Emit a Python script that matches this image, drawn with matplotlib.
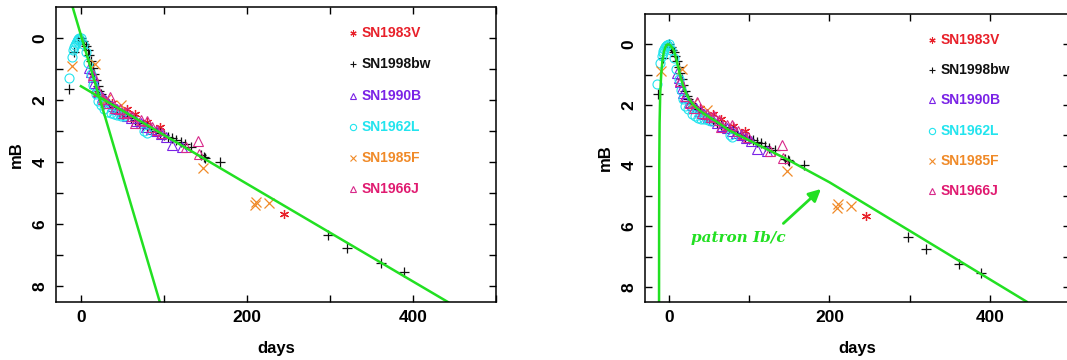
import matplotlib
matplotlib.use("Agg")
import matplotlib.pyplot as plt

# ---------------- data ----------------
sn1998bw_days = [-14, -8, -3, 0, 2, 4, 6, 8, 10, 12, 14, 16, 18, 20, 22, 24, 27, 30, 34, 38,
                 42, 46, 50, 55, 60, 65, 70, 75, 80, 85, 90, 95, 100, 105, 110, 115, 120, 125,
                 132, 145, 148, 150, 168, 298, 320, 362, 389]
sn1998bw_mag = [1.65, 0.46, 0.1, 0.0, 0.1, 0.18, 0.25, 0.4, 0.55, 0.75, 0.95, 1.15, 1.35, 1.55,
                1.7, 1.8, 1.92, 2.02, 2.12, 2.22, 2.3, 2.38, 2.45, 2.52, 2.58, 2.65, 2.72, 2.8,
                2.86, 2.93, 3.0, 3.06, 3.12, 3.17, 3.22, 3.27, 3.35, 3.42, 3.5, 3.78, 3.83, 3.86,
                3.99, 6.35, 6.75, 7.24, 7.54]

sn1962l_days = [-14.5, -11, -9, -8, -7, -6, -5, -4, -3, -2, 0, 3, 6, 9, 12, 15, 18, 20, 24, 28,
                32, 36, 40, 44, 48, 52, 76, 79]
sn1962l_mag = [1.3, 0.6, 0.4, 0.3, 0.22, 0.16, 0.1, 0.06, 0.03, 0.01, 0.0, 0.2, 0.45, 0.8, 1.15,
               1.5, 1.8, 2.02, 2.15, 2.3, 2.38, 2.42, 2.45, 2.47, 2.5, 2.52, 3.0, 3.05]

sn1990b_days = [10, 12, 14, 16, 18, 21, 25, 29, 33, 38, 43, 48, 55, 60, 66, 72, 78, 84, 90, 96,
                102, 110, 122]
sn1990b_mag = [0.95, 1.1, 1.25, 1.45, 1.6, 1.75, 1.9, 2.0, 2.1, 2.2, 2.3, 2.4, 2.5, 2.58, 2.68,
               2.75, 2.85, 2.92, 3.0, 3.1, 3.18, 3.45, 3.52]

sn1966j_days = [14, 20, 26, 31, 35, 41, 47, 52, 56, 62, 65, 72, 79, 86, 92, 98, 126, 141, 142]
sn1966j_mag = [1.2, 1.7, 1.95, 2.1, 1.9, 2.25, 2.3, 2.4, 2.37, 2.5, 2.74, 2.65, 2.67, 2.85, 2.95,
               3.05, 3.52, 3.31, 3.74]

sn1983v_days = [38, 55, 65, 80, 95, 245]
sn1983v_mag = [2.1, 2.3, 2.45, 2.7, 2.85, 5.66]

sn1985f_days = [-10.4, 16.5, 30, 47.8, 147, 209.5, 210.5, 226.5]
sn1985f_mag = [0.89, 0.82, 1.95, 2.16, 4.19, 5.39, 5.27, 5.32]

# straight-line fits (left panel), endpoints
fit1_days = [-10, 95]
fit1_mag = [-1.0, 8.5]
fit2_days = [0, 442]
fit2_mag = [1.55, 8.5]

# template curve (right panel)
model_days = [-12.5, -12.4, -12.2, -11.8, -11.0, -9.8, -8.4, -6.5, -4.5, -2.5, -0.8, 1.5, 4,
              6.25, 8.3, 10.5, 12.5, 15, 18.75, 22, 25, 29, 33, 40, 50, 62, 75, 100, 125, 150,
              165, 200, 300, 446]
model_mag = [8.5, 6.0, 4.0, 2.6, 1.6, 1.0, 0.55, 0.25, 0.08, 0.01, 0.0, 0.03, 0.12, 0.22, 0.42,
             0.65, 0.88, 1.15, 1.45, 1.65, 1.8, 1.95, 2.07, 2.22, 2.4, 2.6, 2.84, 3.17, 3.5,
             3.83, 4.05, 4.55, 6.15, 8.49]

legend_names = ["SN1983V", "SN1998bw", "SN1990B", "SN1962L", "SN1985F", "SN1966J"]
x_ticks = [0, 100, 200, 300, 400, 500]
x_ticklabels = ["0", "", "200", "", "400", ""]
y_ticks = [0, 1, 2, 3, 4, 5, 6, 7, 8]
y_ticklabels = ["0", "", "2", "", "4", "", "6", "", "8"]

# ---------------- style ----------------
plt.rcParams['font.family'] = ['Liberation Sans', 'DejaVu Sans']
GREEN = '#22e022'
ASTER = (6, 2, 0)
series = [
    (sn1983v_days, sn1983v_mag, ASTER, '#e8202a', '#e8202a'),
    (sn1998bw_days, sn1998bw_mag, '+', '#111111', '#111111'),
    (sn1990b_days, sn1990b_mag, '^', '#7a22e6', '#7a22e6'),
    (sn1962l_days, sn1962l_mag, 'o', '#22e4ee', '#22e4ee'),
    (sn1985f_days, sn1985f_mag, 'x', '#f08a28', '#f08a28'),
    (sn1966j_days, sn1966j_mag, '^', '#d8288a', '#e01a70'),
]

fig = plt.figure(figsize=(10.67, 3.6), dpi=100)
ax1 = fig.add_axes([0.0525, 0.1611, 0.4124, 0.8194])
ax2 = fig.add_axes([0.6045, 0.1611, 0.3983, 0.8000])


def draw_panel(ax):
    for d, m, mk, mc, tc in series:
        if isinstance(mk, str) and mk in ('^', 'o'):
            ax.plot(d, m, linestyle='none', marker=mk, ms=6.5, mfc='none', mec=mc, mew=0.8)
        else:
            ax.plot(d, m, linestyle='none', marker=mk, ms=6.5, color=mc, mew=0.9)
    # legend as text
    for i, (name, (d, m, mk, mc, tc)) in enumerate(zip(legend_names, series)):
        yy = -0.15 + i * 1.0
        if isinstance(mk, str) and mk in ('^', 'o'):
            ax.plot([328], [yy], linestyle='none', marker=mk, ms=4.5, mfc='none', mec=mc, mew=0.8)
        else:
            ax.plot([328], [yy], linestyle='none', marker=mk, ms=4.5, color=mc, mew=0.8)
        ax.text(338, yy, name, color=tc, fontsize=10, fontweight='bold', va='center', ha='left')
    ax.set_xlim(-30, 500)
    ax.set_ylim(8.5, -1)
    ax.set_xticks(x_ticks)
    ax.set_xticklabels(x_ticklabels, fontweight='bold')
    ax.set_yticks(y_ticks)
    ax.set_yticklabels(y_ticklabels, rotation=90, va='center', fontweight='bold')
    ax.tick_params(direction='in', length=5, width=1, top=True, right=True, labelsize=12.5, pad=6)
    for s in ax.spines.values():
        s.set_linewidth(1.1)
    ax.set_xlabel('days', fontsize=12, fontweight='bold', labelpad=11)
    ax.set_ylabel('mB', fontsize=12, fontweight='bold', labelpad=6)


draw_panel(ax1)
ax1.plot(fit1_days, fit1_mag, color=GREEN, lw=1.8)
ax1.plot(fit2_days, fit2_mag, color=GREEN, lw=1.8)

draw_panel(ax2)
ax2.plot(model_days, model_mag, color=GREEN, lw=1.8)
ax2.annotate('', xy=(192, 4.71), xytext=(140, 5.97),
             arrowprops=dict(arrowstyle='-|>', color=GREEN, lw=2, mutation_scale=18))
ax2.text(27, 6.4, 'patron Ib/c', color=GREEN, fontsize=11, fontweight='bold',
         fontstyle='italic', family=['DejaVu Serif'], va='center', ha='left')

fig.savefig('out.png', dpi=100)
